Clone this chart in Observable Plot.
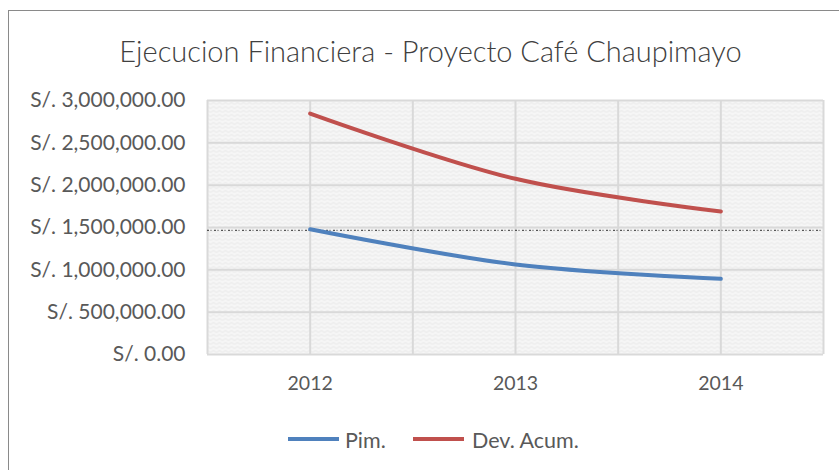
<!DOCTYPE html>
<html>
<head>
<meta charset="utf-8">
<script src="https://cdn.jsdelivr.net/npm/d3@7"></script>
<script src="https://cdn.jsdelivr.net/npm/@observablehq/plot@0.6"></script>
<style>
  html, body { margin: 0; padding: 0; background: #fff; }
  #wrap { position: relative; width: 839px; height: 470px; overflow: hidden; background: #fff; font-family: Lato, "Open Sans", sans-serif; }
  #border { position: absolute; left: 8px; top: 10px; width: 900px; height: 500px; border-left: 1.5px solid #8a8a8a; border-top: 1.5px solid #8a8a8a; box-sizing: border-box; }
  #title { position: absolute; left: 0; width: 861px; top: 36px; text-align: center; font-size: 29px; line-height: 29px; font-weight: 300; color: #404040; white-space: nowrap; }
  #chart { position: absolute; left: 0; top: 0; }
  .sw { position: absolute; height: 4px; width: 51px; }
  .lg { position: absolute; font-size: 21.5px; line-height: 21.5px; color: #595959; white-space: nowrap; }
</style>
</head>
<body>
<div id="wrap">
  <div id="border"></div>
  <div id="title">Ejecucion Financiera - Proyecto Café Chaupimayo</div>
  <div id="chart"></div>
  <div id="legend"></div>
</div>
<script>
const years = [2012, 2013, 2014];
const pim = [1480000, 1063000, 894000];
const devAcum = [2846000, 2075000, 1689000];
const seriesNames = ["Pim.", "Dev. Acum."];
const seriesColors = ["#4f81bd", "#c0504d"];
const yTicks = [0, 500000, 1000000, 1500000, 2000000, 2500000, 3000000];
const refLine = [1465000];

const rows = [
  ...years.map((y, i) => ({year: y, value: pim[i], series: seriesNames[0]})),
  ...years.map((y, i) => ({year: y, value: devAcum[i], series: seriesNames[1]}))
];
const xGrid = years.flatMap(y => [y - 0.5, y]).concat([years[years.length - 1] + 0.5]);
const fmt = d => "S/. " + d3.format(",.2f")(d);

const plot = Plot.plot({
  width: 839,
  height: 470,
  marginTop: 100,
  marginBottom: 116,
  marginLeft: 207,
  marginRight: 16,
  style: {fontFamily: "Lato, 'Open Sans', sans-serif", fontSize: "19.5px", color: "#595959", background: "transparent"},
  x: {domain: [years[0] - 0.5, years[years.length - 1] + 0.5]},
  y: {domain: [0, 3000000]},
  color: {domain: seriesNames, range: seriesColors},
  marks: [
    Plot.frame({fill: "#f5f5f5", stroke: null}),
    Plot.ruleY(yTicks, {stroke: "#d9d9d9", strokeWidth: 2}),
    Plot.ruleX(xGrid, {stroke: "#d9d9d9", strokeWidth: 2}),
    Plot.ruleY(refLine, {stroke: "#3a3a3a", strokeWidth: 1.2, strokeDasharray: "2,1.5,1,2.5", strokeOpacity: 0.85}),
    Plot.line(rows, {x: "year", y: "value", z: "series", stroke: "series", strokeWidth: 4, curve: "catmull-rom"}),
    Plot.axisY({ticks: yTicks, tickFormat: fmt, tickSize: 0, tickPadding: 22, fill: "#595959", fontSize: 21, label: null}),
    Plot.axisX({ticks: years, tickFormat: d => String(d), tickSize: 0, tickPadding: 22, fill: "#595959", fontSize: 19.5, label: null})
  ]
});
document.getElementById("chart").appendChild(plot);

// texture pattern for plot background
const svg = d3.select(plot);
const defs = svg.insert("defs", ":first-child");
const pat = defs.append("pattern").attr("id", "tex").attr("patternUnits", "userSpaceOnUse").attr("width", 12).attr("height", 8);
pat.append("rect").attr("width", 12).attr("height", 8).attr("fill", "#f6f6f6");
pat.append("path").attr("d", "M0 4 L3 2 L6 4 L9 2 L12 4 M0 8 L3 6 L6 8 L9 6 L12 8").attr("fill", "none").attr("stroke", "#e7e7e7").attr("stroke-width", 1);
svg.selectAll('g[aria-label="frame"]').each(function() { d3.select(this).select("rect").attr("fill", "url(#tex)"); });
svg.selectAll('[aria-label="frame"]').filter(function() { return this.tagName === "rect"; }).attr("fill", "url(#tex)");

// legend
const legend = document.getElementById("legend");
const swX = [288, 413], txX = [345, 472];
seriesNames.forEach((name, i) => {
  const sw = document.createElement("div");
  sw.className = "sw";
  sw.style.left = swX[i] + "px";
  sw.style.top = "437px";
  sw.style.background = seriesColors[i];
  legend.appendChild(sw);
  const t = document.createElement("div");
  t.className = "lg";
  t.style.left = txX[i] + "px";
  t.style.top = "430px";
  t.textContent = name;
  legend.appendChild(t);
});
</script>
</body>
</html>
